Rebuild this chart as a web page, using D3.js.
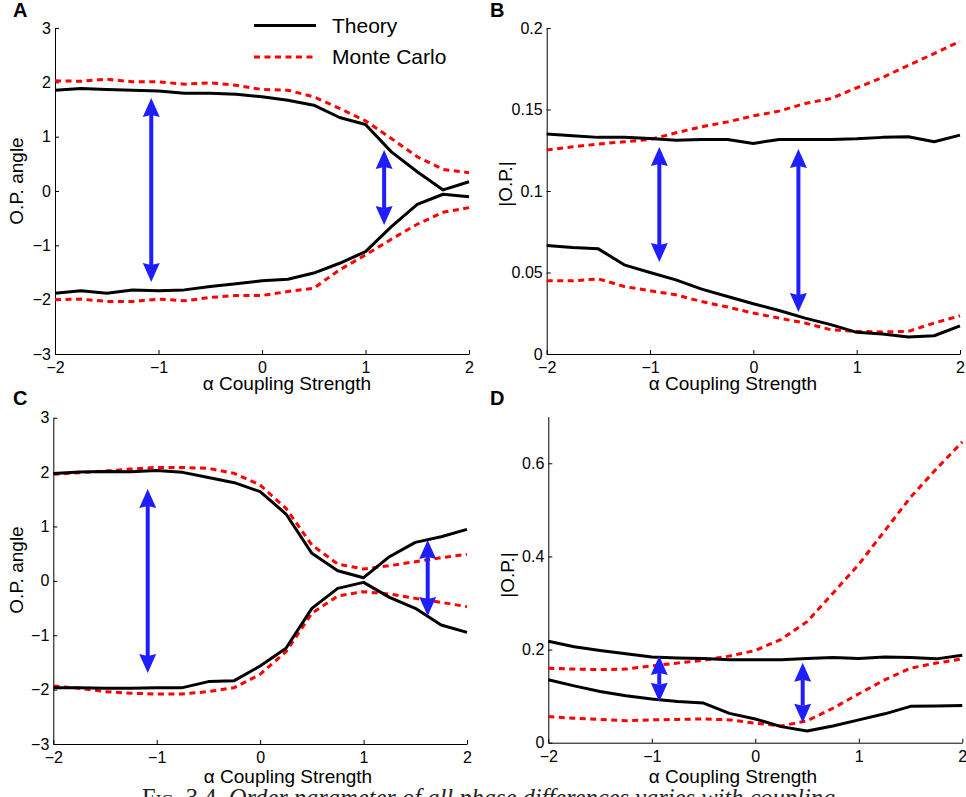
<!DOCTYPE html>
<html>
<head>
<meta charset="utf-8">
<script src="https://cdn.jsdelivr.net/npm/d3@7"></script>
<style>
  body { margin: 0; background: #fff; }
  svg { display: block; font-family: "Liberation Sans", Arial, sans-serif; }
  .axis path, .axis line { stroke: #000; stroke-width: 1; }
  .axis text { font-size: 16px; fill: #000; font-family: "Liberation Sans", Arial, sans-serif; }
</style>
</head>
<body>
<div id="graph"></div>
<script>
// coupling strength alpha, sampled every 0.25
var alphaValues = [-2, -1.75, -1.5, -1.25, -1, -0.75, -0.5, -0.25, 0, 0.25, 0.5, 0.75, 1, 1.25, 1.5, 1.75, 2];

var alphaTicks = [-2, -1, 0, 1, 2];
var angleTicks = [-3, -2, -1, 0, 1, 2, 3];
var magTicksB = [0, 0.05, 0.1, 0.15, 0.2];
var magTicksD = [0, 0.2, 0.4, 0.6];

// panel A : O.P. angle
var aTheoryUp  = [1.855, 1.886, 1.87, 1.855, 1.84, 1.80, 1.80, 1.78, 1.733, 1.67, 1.58, 1.353, 1.225, 0.72, 0.355, 0.02, 0.17];
var aTheoryLow = [-1.88, -1.837, -1.88, -1.82, -1.837, -1.82, -1.757, -1.708, -1.653, -1.623, -1.51, -1.33, -1.115, -0.655, -0.245, -0.06, -0.104];
var aMonteUp   = [2.027, 2.02, 2.057, 2.01, 2.01, 1.966, 1.99, 1.947, 1.868, 1.855, 1.733, 1.519, 1.292, 0.967, 0.63, 0.398, 0.337];
var aMonteLow  = [-2.0, -1.99, -2.033, -2.033, -1.99, -2.02, -1.96, -1.923, -1.923, -1.85, -1.79, -1.45, -1.176, -0.888, -0.612, -0.392, -0.306];

// panel B : |O.P.|
var bTheoryUp  = [0.1349, 0.1339, 0.1329, 0.1329, 0.1322, 0.1312, 0.1316, 0.1316, 0.1292, 0.1316, 0.1316, 0.1316, 0.132, 0.1329, 0.1333, 0.1302, 0.1343];
var bTheoryLow = [0.0665, 0.0653, 0.0645, 0.0547, 0.05, 0.0455, 0.0398, 0.0353, 0.0308, 0.0267, 0.022, 0.018, 0.0133, 0.0122, 0.0104, 0.0112, 0.0173];
var bMonteUp   = [0.1251, 0.1271, 0.1288, 0.1302, 0.1316, 0.1357, 0.1394, 0.1424, 0.1461, 0.149, 0.1537, 0.1567, 0.1633, 0.1696, 0.1771, 0.1843, 0.1918];
var bMonteLow  = [0.0449, 0.0449, 0.0461, 0.0414, 0.0388, 0.0363, 0.0322, 0.0288, 0.0251, 0.022, 0.019, 0.0149, 0.0139, 0.0135, 0.0139, 0.019, 0.0235];

// panel C : O.P. angle
var cTheoryUp  = [1.976, 2.0, 2.013, 2.007, 2.03, 1.995, 1.90, 1.805, 1.64, 1.229, 0.506, 0.187, 0.058, 0.444, 0.708, 0.812, 0.947];
var cTheoryLow = [-1.964, -1.964, -1.976, -1.976, -1.964, -1.964, -1.853, -1.835, -1.566, -1.24, -0.505, -0.138, -0.028, -0.303, -0.505, -0.812, -0.947];
var cMonteUp   = [1.958, 1.988, 2.019, 2.056, 2.086, 2.086, 2.068, 1.976, 1.762, 1.333, 0.659, 0.309, 0.218, 0.279, 0.352, 0.426, 0.487];
var cMonteLow  = [-1.933, -1.976, -2.037, -2.068, -2.08, -2.08, -2.037, -1.964, -1.719, -1.302, -0.597, -0.279, -0.199, -0.242, -0.322, -0.395, -0.475];

// panel D : |O.P.|
var dTheoryUp  = [0.218, 0.206, 0.198, 0.191, 0.184, 0.182, 0.181, 0.178, 0.178, 0.178, 0.181, 0.183, 0.181, 0.184, 0.183, 0.18, 0.188];
var dTheoryLow = [0.135, 0.122, 0.110, 0.101, 0.094, 0.0885, 0.085, 0.063, 0.051, 0.0345, 0.025, 0.036, 0.049, 0.062, 0.078, 0.079, 0.080];
var dMonteUp   = [0.160, 0.158, 0.157, 0.158, 0.165, 0.171, 0.177, 0.186, 0.198, 0.222, 0.260, 0.321, 0.383, 0.455, 0.527, 0.588, 0.646];
var dMonteLow  = [0.056, 0.0525, 0.050, 0.047, 0.049, 0.050, 0.051, 0.049, 0.042, 0.036, 0.047, 0.074, 0.105, 0.135, 0.160, 0.171, 0.180];

// double arrows: [alpha, top, bottom]
var aArrows = [[-1.07, 1.71, -1.675], [1.18, 0.755, -0.626]];
var bArrows = [[-0.91, 0.127, 0.0564], [0.436, 0.1258, 0.0258]];
var cArrows = [[-1.087, 1.69, -1.695], [1.62, 0.75, -0.647]];
var dArrows = [[-0.928, 0.186, 0.088], [0.458, 0.1715, 0.043]];

var width = 966, height = 797;
var svg = d3.select("#graph").append("svg")
  .attr("width", width)
  .attr("height", height);

svg.append("rect").attr("width", width).attr("height", height).attr("fill", "#fff");

var panels = [
  { letter: "A", lx: 13, ly: 17, xr: [55, 469], yr: [354, 28], yd: [-3, 3], yt: angleTicks,
    ylab: "O.P. angle", ylx: 23, yly: 181, xlx: 287, xly: 390,
    series: [aTheoryUp, aTheoryLow], monte: [aMonteUp, aMonteLow], arrows: aArrows },
  { letter: "B", lx: 490, ly: 17, xr: [546.7, 960], yr: [354, 28], yd: [0, 0.2], yt: magTicksB,
    ylab: "|O.P.|", ylx: 512, yly: 184, xlx: 733, xly: 390,
    series: [bTheoryUp, bTheoryLow], monte: [bMonteUp, bMonteLow], arrows: bArrows },
  { letter: "C", lx: 13, ly: 405, xr: [53.3, 467], yr: [744, 417.7], yd: [-3, 3], yt: angleTicks,
    ylab: "O.P. angle", ylx: 23, yly: 570, xlx: 288, xly: 783,
    series: [cTheoryUp, cTheoryLow], monte: [cMonteUp, cMonteLow], arrows: cArrows },
  { letter: "D", lx: 490, ly: 405, xr: [548.3, 962.3], yr: [742.7, 416.7], yd: [0, 0.7], yt: magTicksD,
    ylab: "|O.P.|", ylx: 514, yly: 575, xlx: 733, xly: 783,
    series: [dTheoryUp, dTheoryLow], monte: [dMonteUp, dMonteLow], arrows: dArrows }
];

panels.forEach(drawPanel);
drawLegend();
drawCaption();

function drawPanel(p) {
  var xScale = d3.scaleLinear().domain([-2, 2]).range(p.xr);
  var yScale = d3.scaleLinear().domain(p.yd).range(p.yr);
  var g = svg.append("g").attr("class", "panel");

  var xAxis = d3.axisBottom(xScale)
    .tickValues(alphaTicks)
    .tickSizeInner(-4)
    .tickSizeOuter(0)
    .tickPadding(8)
    .tickFormat(d3.format("d"));
  var yAxis = d3.axisLeft(yScale)
    .tickValues(p.yt)
    .tickSizeInner(-4)
    .tickSizeOuter(0)
    .tickPadding(4)
    .tickFormat(d3.format("~g"));

  g.append("g")
    .attr("class", "axis x")
    .attr("transform", "translate(0," + p.yr[0] + ")")
    .call(xAxis);
  g.append("g")
    .attr("class", "axis y")
    .attr("transform", "translate(" + p.xr[0] + ",0)")
    .call(yAxis);
  g.selectAll(".axis .domain").attr("stroke", "#000");

  var line = d3.line()
    .x(function(d, i) { return xScale(alphaValues[i]); })
    .y(function(d) { return yScale(d); });

  p.monte.forEach(function(s) {
    g.append("path")
      .attr("d", line(s))
      .attr("fill", "none")
      .attr("stroke", "#ff0000")
      .attr("stroke-width", 3)
      .attr("stroke-dasharray", "6,4.5");
  });
  p.series.forEach(function(s) {
    g.append("path")
      .attr("d", line(s))
      .attr("fill", "none")
      .attr("stroke", "#000")
      .attr("stroke-width", 3)
      .attr("stroke-linejoin", "round");
  });

  p.arrows.forEach(function(a) {
    var x = xScale(a[0]), y0 = yScale(a[1]), y1 = yScale(a[2]);
    var hl = 19, hw = 8.5, notch = 2;
    g.append("line")
      .attr("x1", x).attr("x2", x)
      .attr("y1", y0 + hl - 2).attr("y2", y1 - hl + 2)
      .attr("stroke", "#1e1eff")
      .attr("stroke-width", 4);
    g.append("path")
      .attr("d", "M" + x + "," + y0 + "L" + (x + hw) + "," + (y0 + hl) + "L" + x + "," + (y0 + hl - notch) +
        "L" + (x - hw) + "," + (y0 + hl) + "Z")
      .attr("fill", "#1e1eff");
    g.append("path")
      .attr("d", "M" + x + "," + y1 + "L" + (x + hw) + "," + (y1 - hl) + "L" + x + "," + (y1 - hl + notch) +
        "L" + (x - hw) + "," + (y1 - hl) + "Z")
      .attr("fill", "#1e1eff");
  });

  g.append("text")
    .attr("x", p.lx)
    .attr("y", p.ly)
    .attr("font-size", 20)
    .attr("font-weight", "bold")
    .text(p.letter);

  g.append("text")
    .attr("transform", "translate(" + [p.ylx, p.yly] + ")rotate(-90)")
    .attr("text-anchor", "middle")
    .attr("font-size", 19)
    .text(p.ylab);

  g.append("text")
    .attr("x", p.xlx)
    .attr("y", p.xly)
    .attr("text-anchor", "middle")
    .attr("font-size", 19)
    .text("\u03b1 Coupling Strength");
}

function drawLegend() {
  var legend = svg.append("g").attr("class", "legend");
  legend.append("line")
    .attr("x1", 254).attr("x2", 316).attr("y1", 25.5).attr("y2", 25.5)
    .attr("stroke", "#000").attr("stroke-width", 3);
  legend.append("line")
    .attr("x1", 254).attr("x2", 316).attr("y1", 57).attr("y2", 57)
    .attr("stroke", "#ff0000").attr("stroke-width", 3)
    .attr("stroke-dasharray", "6,4.5");
  legend.append("text")
    .attr("x", 332).attr("y", 33)
    .attr("font-size", 21)
    .text("Theory");
  legend.append("text")
    .attr("x", 332).attr("y", 64)
    .attr("font-size", 21)
    .text("Monte Carlo");
}

function drawCaption() {
  // caption runs off the bottom edge, as in the source page
  var cap = svg.append("text")
    .attr("x", 142)
    .attr("y", 806)
    .attr("font-family", "'Liberation Serif', 'DejaVu Serif', serif")
    .attr("font-size", 24.5)
    .attr("fill", "#222");
  cap.append("tspan").style("font-variant", "small-caps").text("Fig. 3.4.");
  cap.append("tspan").attr("font-style", "italic").text(" Order parameter of all phase differences varies with coupling");
}
</script>
</body>
</html>
